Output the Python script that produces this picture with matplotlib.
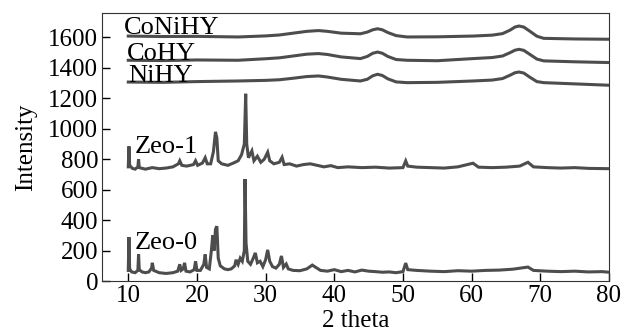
import matplotlib
matplotlib.use("Agg")
import matplotlib.pyplot as plt

plt.rcParams['font.family'] = ['Liberation Serif', 'DejaVu Serif']

# XRD patterns (2 theta, intensity)
zeo0_x = [10.0, 10.1, 10.2, 10.5, 11.0, 11.4, 11.5, 11.6, 12.0, 12.5, 13.0, 13.4, 13.5, 13.7,
          14.5, 15.5, 16.5, 17.2, 17.5, 17.7, 18.0, 18.2, 18.4, 19.0, 19.6, 19.8, 20.0, 20.5,
          21.0, 21.2, 21.4, 21.8, 22.1, 22.3, 22.5, 22.7, 22.9, 23.1, 23.4, 24.0, 24.5, 25.0,
          25.5, 25.7, 26.0, 26.3, 26.6, 26.9, 27.0, 27.15, 27.4, 27.8, 28.2, 28.5, 28.8, 29.2,
          29.6, 30.0, 30.3, 30.6, 31.0, 31.5, 32.0, 32.3, 32.6, 33.0, 33.3, 34.0, 35.0, 36.0,
          36.8, 37.3, 38.0, 39.0, 40.0, 41.0, 42.0, 43.0, 44.0, 45.0, 46.0, 47.0, 48.0, 49.0,
          50.0, 50.4, 50.7, 52.0, 54.0, 56.0, 58.0, 60.0, 62.0, 64.0, 66.0, 68.2, 69.0, 71.0,
          73.0, 75.0, 77.0, 79.0, 80.0]
zeo0_y = [70, 289, 80, 60, 55, 70, 177, 75, 60, 55, 60, 85, 120, 70,
          55, 50, 55, 65, 110, 70, 80, 120, 65, 60, 75, 130, 70, 70,
          110, 175, 90, 80, 200, 300, 200, 340, 360, 150, 100, 80, 75, 80,
          100, 140, 110, 150, 130, 200, 670, 250, 130, 110, 150, 185, 120, 130,
          95, 140, 205, 130, 95, 85, 110, 165, 90, 112, 80, 70, 68, 80,
          105, 90, 70, 65, 75, 62, 70, 60, 72, 65, 62, 58, 60, 55,
          62, 118, 75, 70, 65, 62, 68, 65, 70, 72, 78, 92, 70, 65,
          62, 65, 60, 62, 58]

zeo1_x = [10.0, 10.1, 10.2, 10.6, 11.0, 11.4, 11.5, 11.6, 12.5, 13.5, 14.5, 15.5, 16.5, 17.3,
          17.5, 17.8, 18.5, 19.5, 19.8, 20.1, 20.8, 21.2, 21.5, 22.0, 22.4, 22.7, 22.9, 23.1,
          23.6, 24.5, 25.3, 26.0, 26.5, 26.9, 27.1, 27.25, 27.5, 28.0, 28.3, 28.8, 29.3, 29.8,
          30.3, 30.6, 31.2, 32.0, 32.4, 32.7, 33.5, 34.5, 35.5, 36.5, 37.5, 38.5, 39.5, 40.5,
          42.0, 44.0, 46.0, 48.0, 50.0, 50.4, 50.7, 52.0, 54.0, 56.0, 58.0, 60.2, 61.0, 63.0,
          65.0, 67.0, 68.2, 69.0, 71.0, 73.0, 75.0, 77.0, 80.0]
zeo1_y = [750, 885, 760, 740, 735, 750, 800, 745, 735, 745, 738, 742, 750, 770,
          790, 760, 755, 765, 790, 760, 775, 810, 770, 770, 850, 980, 940, 790,
          770, 760, 775, 790, 830, 900, 1230, 900, 810, 855, 790, 820, 780, 800,
          846, 790, 770, 780, 813, 765, 770, 755, 765, 770, 760, 750, 758, 745,
          750, 745, 748, 742, 745, 789, 755, 748, 745, 742, 750, 774, 748, 745,
          748, 755, 780, 750, 745, 742, 745, 740, 738]

hy_x = [10, 15, 20, 26, 30, 32, 34, 36, 37.7, 39, 41, 43.8, 44.8, 45.6, 46.3, 47.0, 47.8, 49,
        50.6, 55, 60.2, 63, 64.5, 65.6, 66.3, 66.9, 67.6, 68.5, 69.5, 70.5, 75, 80]
conihy_y = [1609, 1606, 1607, 1603, 1610, 1616, 1628, 1640, 1645, 1640, 1628, 1624, 1635, 1650,
            1657, 1650, 1632, 1612, 1603, 1604, 1609, 1615, 1625, 1648, 1668, 1675, 1668, 1640,
            1608, 1594, 1590, 1588]
cohy_y = [1450, 1448, 1452, 1450, 1460, 1466, 1478, 1490, 1494, 1488, 1472, 1461, 1475, 1496,
          1504, 1496, 1475, 1455, 1450, 1447, 1461, 1468, 1478, 1500, 1516, 1522, 1515, 1488,
          1458, 1446, 1440, 1435]
nihy_y = [1307, 1305, 1310, 1314, 1318, 1322, 1332, 1343, 1347, 1340, 1325, 1314, 1325, 1348,
          1358, 1350, 1328, 1308, 1303, 1305, 1314, 1320, 1330, 1352, 1368, 1373, 1366, 1338,
          1310, 1303, 1295, 1286]

series = [(zeo0_x, zeo0_y), (zeo1_x, zeo1_y), (hy_x, nihy_y), (hy_x, cohy_y), (hy_x, conihy_y)]

# label text and where it sits (x, baseline y)
labels = ['Zeo-0', 'Zeo-1', 'NiHY', 'CoHY', 'CoNiHY']
label_x = [10.9, 10.9, 10.0, 9.8, 9.3]
label_y = [210, 844, 1307, 1450, 1620]

fig = plt.figure(figsize=(6.23, 3.35), dpi=100)
ax = fig.add_axes([0.164, 0.161, 0.8135, 0.8])

for x, y in series:
    ax.plot(x, y, color='#4d4d4d', lw=2.2, solid_joinstyle='miter')

for t, lx, ly in zip(labels, label_x, label_y):
    ax.text(lx, ly, t, fontsize=19, va='baseline', ha='left')

ax.set_xlim(6.2, 80)
ax.set_ylim(0, 1760)
ax.set_xticks([10, 20, 30, 40, 50, 60, 70, 80])
ax.set_yticks(range(0, 1601, 200))
ax.tick_params(direction='in', length=6, width=1, labelsize=18, pad=3)
ax.set_xlabel('2 theta', fontsize=18, labelpad=2)
ax.set_ylabel('Intensity', fontsize=18, labelpad=8)
for s in ax.spines.values():
    s.set_color('#333333')

fig.savefig('out.png', dpi=100)
